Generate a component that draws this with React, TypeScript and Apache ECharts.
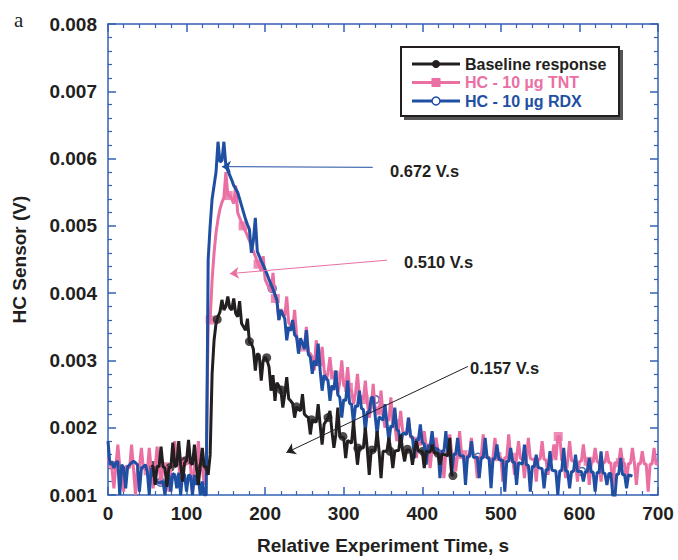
import React, { useEffect, useRef } from "react";
import * as echarts from "echarts";

const STEP = 2.5;

// Baseline response (mV), from t = 55 s
const baselineStart = 55;
const baselineMv = [
  1.44, 1.42, 1.15, 1.43, 1.42, 1.72, 1.42, 1.40, 1.12, 1.41,
  1.41, 1.78, 1.42, 1.44, 1.80, 1.45, 1.20, 1.48, 1.51, 1.82,
  1.48, 1.45, 1.75, 1.42, 1.15, 1.44, 1.70, 1.42, 1.42, 1.30,
  1.60, 2.80, 3.30, 3.55, 3.65, 3.72, 3.90, 3.75, 3.80, 3.95,
  3.78, 3.75, 3.92, 3.70, 3.65, 3.88, 3.55, 3.50, 3.45, 3.62,
  3.27, 3.25, 3.17, 2.85, 3.10, 3.08, 2.70, 3.00, 3.05, 3.00,
  2.90, 2.55, 2.78, 2.40, 2.67, 2.62, 2.56, 2.30, 2.50, 2.75,
  2.43, 2.40, 2.36, 2.15, 2.31, 2.28, 2.25, 2.50, 2.20, 2.17,
  2.15, 1.90, 2.12, 2.10, 2.08, 2.35, 2.04, 1.75, 2.05, 2.10,
  2.15, 2.25, 1.95, 1.70, 1.90, 2.30, 1.87, 1.86, 1.85, 1.55,
  1.81, 1.79, 1.77, 2.10, 1.74, 1.45, 1.71, 1.70, 1.70, 2.00,
  1.68, 1.30, 1.67, 1.66, 1.66, 1.95, 1.65, 1.25, 1.65, 1.65,
  1.65, 1.85, 1.65, 1.40, 1.65, 1.66, 1.66, 1.90, 1.66, 1.50,
  1.67, 1.67, 1.66, 1.45, 1.66, 1.80, 1.65, 1.65, 1.65, 1.40,
  1.65, 1.64, 1.64, 1.75, 1.63, 1.62, 1.62, 1.45, 1.61, 1.60,
  1.60, 1.58, 1.85, 1.30, 1.29,
];

// HC - 10 µg TNT (mV), from t = 0 s
const tntStart = 0;
const tntMv = [
  1.55, 1.45, 1.40, 1.10, 1.42, 1.75, 1.42, 1.40, 1.05, 1.43,
  1.42, 1.40, 1.75, 1.38, 1.00, 1.40, 1.42, 1.70, 1.40, 1.38,
  1.36, 1.70, 1.38, 1.10, 1.40, 1.72, 1.42, 1.15, 1.42, 1.42,
  1.40, 1.05, 1.44, 1.46, 1.80, 1.48, 1.50, 1.10, 1.50, 1.48,
  1.45, 1.75, 1.42, 1.05, 1.44, 1.42, 1.80, 1.42, 1.40, 1.15,
  1.40, 3.55, 3.60, 4.20, 4.60, 4.90, 5.10, 5.25, 5.35, 5.42,
  5.80, 5.46, 5.45, 5.40, 5.33, 5.60, 5.20, 5.12, 5.05, 4.98,
  4.92, 4.85, 4.78, 4.70, 4.62, 4.55, 4.47, 4.40, 4.33, 4.55,
  4.20, 4.14, 4.07, 4.02, 4.30, 3.92, 3.87, 3.60, 3.76, 3.71,
  3.66, 3.95, 3.56, 3.52, 3.47, 3.75, 3.38, 3.20, 3.29, 3.25,
  3.20, 3.50, 3.12, 3.10, 3.05, 2.85, 3.30, 2.98, 2.92, 3.20,
  2.87, 2.70, 2.82, 3.05, 2.77, 2.75, 2.73, 2.50, 2.68, 3.00,
  2.63, 2.60, 2.90, 2.57, 2.55, 2.35, 2.51, 2.80, 2.47, 2.45,
  2.42, 2.70, 2.38, 2.15, 2.30, 2.65, 2.27, 2.25, 2.22, 2.55,
  2.20, 2.00, 2.15, 2.10, 2.45, 2.07, 2.05, 1.80, 2.00, 2.25,
  1.95, 1.92, 1.90, 2.15, 1.86, 1.84, 1.82, 1.55, 1.78, 1.77,
  1.75, 1.95, 1.72, 1.70, 1.40, 1.69, 1.68, 1.85, 1.66, 1.65,
  1.64, 1.25, 1.63, 1.62, 1.90, 1.61, 1.61, 1.35, 1.60, 1.95,
  1.60, 1.59, 1.30, 1.59, 1.58, 1.85, 1.58, 1.57, 1.25, 1.57,
  1.57, 1.90, 1.57, 1.56, 1.56, 1.35, 1.56, 1.85, 1.56, 1.56,
  1.56, 1.20, 1.56, 1.55, 1.90, 1.55, 1.55, 1.30, 1.55, 1.80,
  1.54, 1.54, 1.25, 1.54, 1.85, 1.54, 1.53, 1.53, 1.20, 1.53,
  1.53, 1.80, 1.53, 1.52, 1.30, 1.52, 1.52, 1.75, 1.52, 1.87,
  1.87, 1.51, 1.51, 1.25, 1.51, 1.80, 1.51, 1.50, 1.50, 1.20,
  1.50, 1.50, 1.75, 1.50, 1.50, 1.15, 1.49, 1.49, 1.70, 1.49,
  1.49, 1.20, 1.49, 1.48, 1.65, 1.48, 1.48, 1.10, 1.48, 1.48,
  1.48, 1.70, 1.48, 1.47, 1.20, 1.47, 1.47, 1.70, 1.47, 1.15,
  1.47, 1.46, 1.65, 1.46, 1.46, 1.05, 1.46, 1.46, 1.70, 1.46,
  1.46,
];

// HC - 10 µg RDX (mV), from t = 0 s
const rdxStart = 0;
const rdxMv = [
  1.80, 1.45, 1.50, 1.40, 1.48, 1.50, 1.00, 1.45, 1.40, 1.10,
  1.42, 1.45, 1.48, 1.50, 1.48, 1.45, 1.05, 1.40, 1.42, 1.45,
  1.35, 1.00, 1.40, 1.30, 1.25, 1.20, 1.18, 1.19, 1.20, 1.00,
  1.25, 1.30, 1.05, 1.32, 1.30, 1.10, 1.33, 1.00, 1.32, 1.30,
  1.05, 1.30, 1.28, 1.00, 1.30, 1.15, 1.25, 1.00, 1.20, 1.00,
  1.00, 4.50, 5.00, 5.40, 5.60, 5.80, 6.25, 5.95, 5.97, 6.25,
  5.90, 5.82, 5.75, 5.68, 5.60, 5.55, 5.50, 5.40, 5.30, 5.20,
  5.10, 5.02, 4.95, 4.60, 4.78, 5.12, 4.62, 4.55, 4.48, 4.42,
  4.35, 4.28, 4.20, 4.13, 4.06, 3.98, 3.90, 3.60, 3.75, 3.68,
  3.62, 3.30, 3.50, 3.44, 3.60, 3.38, 3.35, 3.10, 3.33, 3.25,
  3.17, 3.45, 3.09, 3.05, 2.80, 3.00, 2.92, 3.25, 2.85, 2.55,
  2.78, 2.74, 2.70, 2.40, 2.63, 2.56, 2.85, 2.49, 2.45, 2.15,
  2.42, 2.40, 2.70, 2.36, 2.35, 2.05, 2.33, 2.31, 2.55, 2.29,
  2.27, 1.95, 2.24, 2.22, 2.45, 2.45, 2.18, 1.90, 2.16, 2.14,
  2.11, 2.35, 2.07, 1.80, 2.03, 2.01, 2.30, 1.97, 1.95, 1.70,
  1.92, 1.91, 1.90, 2.15, 1.88, 1.86, 1.55, 1.83, 1.81, 2.05,
  1.78, 1.76, 1.45, 1.74, 1.72, 1.95, 1.70, 1.69, 1.68, 1.25,
  1.66, 1.64, 1.95, 1.63, 1.62, 1.30, 1.61, 1.60, 1.85, 1.59,
  1.58, 1.58, 1.15, 1.57, 1.57, 1.80, 1.56, 1.56, 1.56, 1.25,
  1.56, 1.55, 1.85, 1.55, 1.55, 1.10, 1.54, 1.54, 1.75, 1.53,
  1.52, 1.51, 1.05, 1.50, 1.50, 1.70, 1.49, 1.48, 1.15, 1.48,
  1.47, 1.46, 1.75, 1.45, 1.44, 1.05, 1.43, 1.42, 1.60, 1.41,
  1.40, 1.39, 1.10, 1.38, 1.37, 1.65, 1.37, 1.36, 1.36, 1.00,
  1.36, 1.36, 1.70, 1.36, 1.35, 1.10, 1.35, 1.35, 1.60, 1.35,
  1.35, 1.35, 1.20, 1.35, 1.34, 1.55, 1.34, 1.34, 1.05, 1.34,
  1.33, 1.65, 1.33, 1.32, 1.15, 1.32, 1.32, 1.00, 0.95, 1.31,
  1.31, 1.55, 1.30, 1.30, 1.10, 1.30, 1.29, 1.28,
];

// marker points [time s, mV]
const baselineMarkers = [
  [57, 1.44], [79, 1.41], [99, 1.51], [120, 1.42], [139, 3.61], [180, 3.28],
  [202, 3.04], [221, 2.56], [240, 2.31], [259, 2.12], [280, 2.15], [299, 1.87],
  [318, 1.70], [336, 1.67], [359, 1.65], [381, 1.68], [401, 1.65], [420, 1.62],
  [439, 1.29],
];
const tntMarkers = [
  [8, 1.44], [51, 1.36], [72, 1.42], [94, 1.50], [114, 1.42], [130, 3.60],
  [153, 5.45], [172, 5.00], [191, 4.43], [213, 3.92], [249, 3.20], [268, 2.98],
  [288, 2.78], [306, 2.60], [326, 2.42], [346, 2.25], [366, 2.06], [393, 1.80],
  [412, 1.70], [452, 1.60], [495, 1.57], [514, 1.56], [573, 1.87], [611, 1.50],
  [652, 1.48],
];
const rdxMarkers = [[67, 1.19], [209, 4.07], [340, 2.42], [471, 1.56], [603, 1.35]];

// integrated-area annotations: arrow [tail, head] in (s, mV)
const rdxArrow = [[337, 5.87], [145, 5.88]];
const tntArrow = [[355, 4.49], [155, 4.29]];
const baselineArrow = [[458, 2.91], [227, 1.63]];
const annotationLabels = ["0.672 V.s", "0.510 V.s", "0.157 V.s"];

const seriesNames = ["Baseline response", "HC - 10 µg TNT", "HC - 10 µg RDX"];
const yTicks = [0.001, 0.002, 0.003, 0.004, 0.005, 0.006, 0.007, 0.008];

const BLACK = "#231f20";
const PINK = "#ea6fa3";
const BLUE = "#1f4fa2";
const AXIS = "#3561b3";
const FONT = '"Liberation Sans", Arial, Helvetica, sans-serif';

const toV = (mv: number) => mv / 1000;
const trace = (start: number, vals: number[]) => vals.map((v, i) => [start + i * STEP, toV(v)]);
const pts = (arr: number[][]) => arr.map(([t, v]) => [t, toV(v)]);
const arrow = (a: number[][], color: string) => ({
  silent: true,
  symbol: ["none", "arrow"],
  symbolSize: 9,
  label: { show: false },
  emphasis: { disabled: true },
  lineStyle: { color, width: 1, type: "solid" },
  data: [[{ coord: [a[0][0], toV(a[0][1])] }, { coord: [a[1][0], toV(a[1][1])] }]],
});

export default function App() {
  const ref = useRef<HTMLDivElement>(null);
  useEffect(() => {
    if (!ref.current) return;
    const chart = echarts.init(ref.current, undefined, { renderer: "svg" });

    const axisCommon = {
      type: "value",
      axisLine: { show: true, onZero: false, lineStyle: { color: AXIS, width: 1.5 } },
      axisTick: { show: true, inside: true, length: 8, lineStyle: { color: AXIS, width: 1.5 } },
      minorTick: { show: true, splitNumber: 5, length: 4, lineStyle: { color: AXIS, width: 1.2 } },
      splitLine: { show: false },
      minorSplitLine: { show: false },
    };
    const labelStyle = { color: BLACK, fontSize: 19, fontWeight: "bold", fontFamily: FONT };

    const legendRows = [
      { name: seriesNames[0], color: BLACK, marker: "dot" },
      { name: seriesNames[1], color: PINK, marker: "square" },
      { name: seriesNames[2], color: BLUE, marker: "ring" },
    ];
    const legendChildren: any[] = [
      { type: "rect", shape: { x: 404, y: 50, width: 219, height: 70 }, style: { fill: "#555" } },
      { type: "rect", shape: { x: 401, y: 47, width: 218, height: 69 }, style: { fill: "#fff", stroke: BLACK, lineWidth: 2 } },
    ];
    legendRows.forEach((r, i) => {
      const y = 64 + i * 18.5;
      legendChildren.push({ type: "line", shape: { x1: 412, y1: y, x2: 460, y2: y }, style: { stroke: r.color, lineWidth: 3 } });
      if (r.marker === "dot") legendChildren.push({ type: "circle", shape: { cx: 436, cy: y, r: 4 }, style: { fill: r.color } });
      if (r.marker === "square") legendChildren.push({ type: "rect", shape: { x: 431.5, y: y - 4.5, width: 9, height: 9 }, style: { fill: r.color } });
      if (r.marker === "ring") legendChildren.push({ type: "circle", shape: { cx: 436, cy: y, r: 4 }, style: { fill: "#fff", stroke: r.color, lineWidth: 1.5 } });
      legendChildren.push({
        type: "text",
        style: { text: r.name, x: 465, y, fill: r.color, fontSize: 16, fontWeight: "bold", fontFamily: FONT, align: "left", verticalAlign: "middle" },
      });
    });

    const annotationPos = [[390, 171], [404, 262], [470, 368]];

    chart.setOption({
      animation: false,
      backgroundColor: "#fff",
      grid: { left: 108, right: 20, top: 24, bottom: 59, containLabel: false },
      xAxis: [
        {
          ...axisCommon,
          position: "bottom",
          min: 0,
          max: 700,
          interval: 100,
          axisLabel: { ...labelStyle, margin: 9 },
          name: "Relative Experiment Time, s",
          nameLocation: "middle",
          nameGap: 41,
          nameTextStyle: { ...labelStyle },
        },
        {
          ...axisCommon,
          position: "top",
          min: 0,
          max: 700,
          interval: 100,
          axisLabel: { show: false },
        },
      ],
      yAxis: [
        {
          ...axisCommon,
          position: "left",
          min: yTicks[0],
          max: yTicks[yTicks.length - 1],
          interval: 0.001,
          axisLabel: { ...labelStyle, margin: 11, formatter: (v: number) => v.toFixed(3) },
          name: "HC Sensor (V)",
          nameLocation: "middle",
          nameRotate: 90,
          nameGap: 79,
          nameTextStyle: { ...labelStyle },
        },
        {
          ...axisCommon,
          position: "right",
          min: yTicks[0],
          max: yTicks[yTicks.length - 1],
          interval: 0.001,
          axisLabel: { show: false },
        },
      ],
      series: [
        {
          name: seriesNames[1],
          type: "line",
          data: trace(tntStart, tntMv),
          symbol: "none",
          lineStyle: { color: PINK, width: 3 },
          markLine: arrow(tntArrow, PINK),
        },
        {
          name: seriesNames[1] + " markers",
          type: "scatter",
          data: pts(tntMarkers),
          symbol: "rect",
          symbolSize: 9,
          itemStyle: { color: PINK },
        },
        {
          name: seriesNames[2],
          type: "line",
          data: trace(rdxStart, rdxMv),
          symbol: "none",
          lineStyle: { color: BLUE, width: 3 },
          markLine: arrow(rdxArrow, BLUE),
        },
        {
          name: seriesNames[2] + " markers",
          type: "scatter",
          data: pts(rdxMarkers),
          symbol: "circle",
          symbolSize: 8,
          itemStyle: { color: "#fff", borderColor: BLUE, borderWidth: 1.5 },
        },
        {
          name: seriesNames[0],
          type: "line",
          data: trace(baselineStart, baselineMv),
          symbol: "none",
          lineStyle: { color: BLACK, width: 3 },
          markLine: arrow(baselineArrow, BLACK),
        },
        {
          name: seriesNames[0] + " markers",
          type: "scatter",
          data: pts(baselineMarkers),
          symbol: "circle",
          symbolSize: 9,
          itemStyle: { color: BLACK },
        },
      ],
      graphic: [
        {
          type: "text",
          style: { text: "a", x: 14, y: 20, fill: BLACK, fontSize: 21, fontFamily: '"Liberation Serif", "Times New Roman", serif', verticalAlign: "middle" },
        },
        { type: "group", children: legendChildren },
        ...annotationLabels.map((t, i) => ({
          type: "text",
          style: {
            text: t,
            x: annotationPos[i][0],
            y: annotationPos[i][1],
            fill: BLACK,
            fontSize: 16.5,
            fontWeight: "bold",
            fontFamily: FONT,
            align: "left",
            verticalAlign: "middle",
          },
        })),
      ],
    });
    return () => chart.dispose();
  }, []);
  return <div ref={ref} style={{ position: "absolute", left: 0, top: 0, width: 678, height: 560 }} />;
}
